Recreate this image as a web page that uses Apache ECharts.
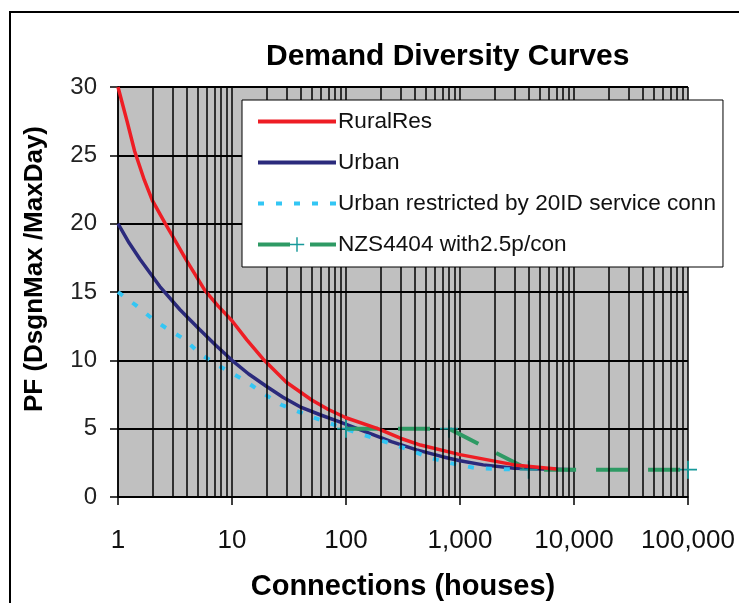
<!DOCTYPE html>
<html>
<head>
<meta charset="utf-8">
<script src="https://cdn.jsdelivr.net/npm/echarts@6/dist/echarts.min.js"></script>
<style>
  html, body { margin: 0; padding: 0; background: #fff; }
  #chart { width: 739px; height: 603px; }
</style>
</head>
<body>
<div id="chart"></div>
<script>
// x tick labels (log axis, 1 .. 100,000)
const xTickLabels = ['1', '10', '100', '1,000', '10,000', '100,000']
// minor vertical gridlines: 2..9 within each decade
const decades = [1, 10, 100, 1000, 10000]
const minorSteps = [2, 3, 4, 5, 6, 7, 8, 9]

// [connections, PF]
const ruralRes = [[1, 30], [1.2, 27.5], [1.4, 25.3], [1.7, 23.2], [2, 21.7], [2.6, 20], [3.2, 18.7], [4, 17.3],
  [5.8, 15.1], [7.5, 14], [10, 12.9], [13.5, 11.5], [18.7, 10.1], [30, 8.4], [50, 7.1], [70, 6.4], [100, 5.8],
  [190, 5], [300, 4.3], [450, 3.8], [1000, 3.1], [1800, 2.7], [3000, 2.35], [7000, 2.05]]
const urban = [[1, 20], [1.25, 18.6], [1.56, 17.4], [2.33, 15.4], [3.5, 13.7], [5.2, 12.25], [7.2, 11.1],
  [10, 10], [14, 9], [20, 8.1], [28, 7.3], [39.5, 6.6], [60, 6], [88, 5.5], [151, 4.75], [250, 4.05],
  [417, 3.45], [700, 2.95], [1000, 2.65], [1600, 2.35], [3000, 2.1], [10000, 2.0]]
const urbanRestricted = [[1, 15], [1.45, 14], [2.03, 13], [2.6, 12.4], [3.9, 11.5], [5.2, 10.5], [7.3, 9.7],
  [12.5, 8.6], [18.7, 7.6], [27, 6.75], [45, 6.0], [72, 5.4], [124, 4.7], [260, 3.85], [377, 3.4],
  [525, 2.9], [800, 2.5], [1400, 2.1], [3400, 2.0]]
const nzs4404 = [[100, 5], [800, 5], [4000, 2], [100000, 2]]

const minorLines = []
decades.forEach(d => minorSteps.forEach(s => minorLines.push({ xAxis: d * s })))

const plus = 'path://M9,0H11V9H20V11H11V20H9V11H0V9H9Z'

let myChart = echarts.init(document.getElementById('chart'), null, { renderer: 'canvas' })
let option = {
  animation: false,
  textStyle: { fontFamily: 'Liberation Sans, Arial, sans-serif' },
  title: {
    text: 'Demand Diversity Curves',
    left: 266,
    top: 42,
    padding: 0,
    textStyle: { fontSize: 30, fontWeight: 'bold', color: '#000' }
  },
  graphic: [{
    type: 'polyline',
    shape: { points: [[10, 603], [10, 12], [739, 12]] },
    style: { stroke: '#000', lineWidth: 2, fill: null },
    silent: true
  }],
  legend: {
    data: [
      { name: 'RuralRes', itemStyle: { opacity: 0 } },
      { name: 'Urban', itemStyle: { opacity: 0 } },
      { name: 'Urban restricted by 20ID service conn', itemStyle: { opacity: 0 } },
      { name: 'NZS4404 with2.5p/con' }
    ],
    orient: 'vertical',
    left: 242,
    top: 100,
    z: 20,
    padding: [10, 7, 11, 14],
    itemWidth: 78,
    itemHeight: 18,
    itemGap: 18,
    lineStyle: { width: 4 },
    backgroundColor: '#fff',
    borderColor: '#000',
    borderWidth: 1,
    textStyle: { fontSize: 22.6, color: '#111', padding: [0, 0, 0, -3] },
    selectedMode: false
  },
  grid: {
    left: 118, right: 51, top: 87, bottom: 106,
    show: true,
    backgroundColor: '#c0c0c0',
    borderWidth: 0,
    outerBoundsMode: 'none'
  },
  xAxis: {
    type: 'log',
    logBase: 10,
    min: 1,
    max: 100000,
    name: 'Connections (houses)',
    nameLocation: 'middle',
    nameGap: 75,
    nameTextStyle: { fontSize: 29, fontWeight: 'bold', color: '#000' },
    axisLine: { show: true, lineStyle: { color: '#000', width: 1.5 } },
    axisTick: { show: true, length: 8, lineStyle: { color: '#000', width: 1.5 } },
    axisLabel: {
      fontSize: 26, color: '#111', margin: 31,
      formatter: v => xTickLabels[Math.round(Math.log10(v))]
    },
    splitLine: { show: true, lineStyle: { color: '#000', width: 1.5 } }
  },
  yAxis: {
    type: 'value',
    min: 0,
    max: 30,
    interval: 5,
    name: 'PF (DsgnMax /MaxDay)',
    nameLocation: 'middle',
    nameGap: 70,
    nameTextStyle: { fontSize: 26, fontWeight: 'bold', color: '#000', padding: [0, 0, 0, 46] },
    axisLine: { show: true, lineStyle: { color: '#000', width: 1.5 } },
    axisTick: { show: true, length: 8, lineStyle: { color: '#000', width: 1.5 } },
    axisLabel: { fontSize: 24, color: '#222', margin: 21 },
    splitLine: { show: true, lineStyle: { color: '#000', width: 2 } }
  },
  series: [
    {
      name: 'minorGrid',
      type: 'line',
      data: [],
      z: 1,
      silent: true,
      markLine: {
        silent: true,
        symbol: ['none', 'none'],
        label: { show: false },
        lineStyle: { color: '#000', width: 1.5, type: 'solid' },
        emphasis: { disabled: true },
        data: minorLines
      }
    },
    {
      name: 'RuralRes',
      type: 'line',
      data: ruralRes,
      z: 4,
      showSymbol: false,
      symbol: 'none',
      itemStyle: { color: '#ee1d24' },
      lineStyle: { color: '#ee1d24', width: 3.5 }
    },
    {
      name: 'Urban',
      type: 'line',
      data: urban,
      z: 3,
      showSymbol: false,
      symbol: 'none',
      itemStyle: { color: '#2b2a7c' },
      lineStyle: { color: '#2b2a7c', width: 3.5 }
    },
    {
      name: 'Urban restricted by 20ID service conn',
      type: 'line',
      data: urbanRestricted,
      z: 3,
      showSymbol: false,
      symbol: 'none',
      itemStyle: { color: '#33c6f4' },
      lineStyle: { color: '#33c6f4', width: 4, type: [6, 12] }
    },
    {
      name: 'NZS4404 with2.5p/con',
      type: 'line',
      data: nzs4404,
      z: 3,
      symbol: plus,
      symbolSize: 18,
      itemStyle: { color: '#17999a' },
      lineStyle: { color: '#2e9a64', width: 4, type: [32, 20] }
    }
  ]
}
myChart.setOption(option)
</script>
</body>
</html>
